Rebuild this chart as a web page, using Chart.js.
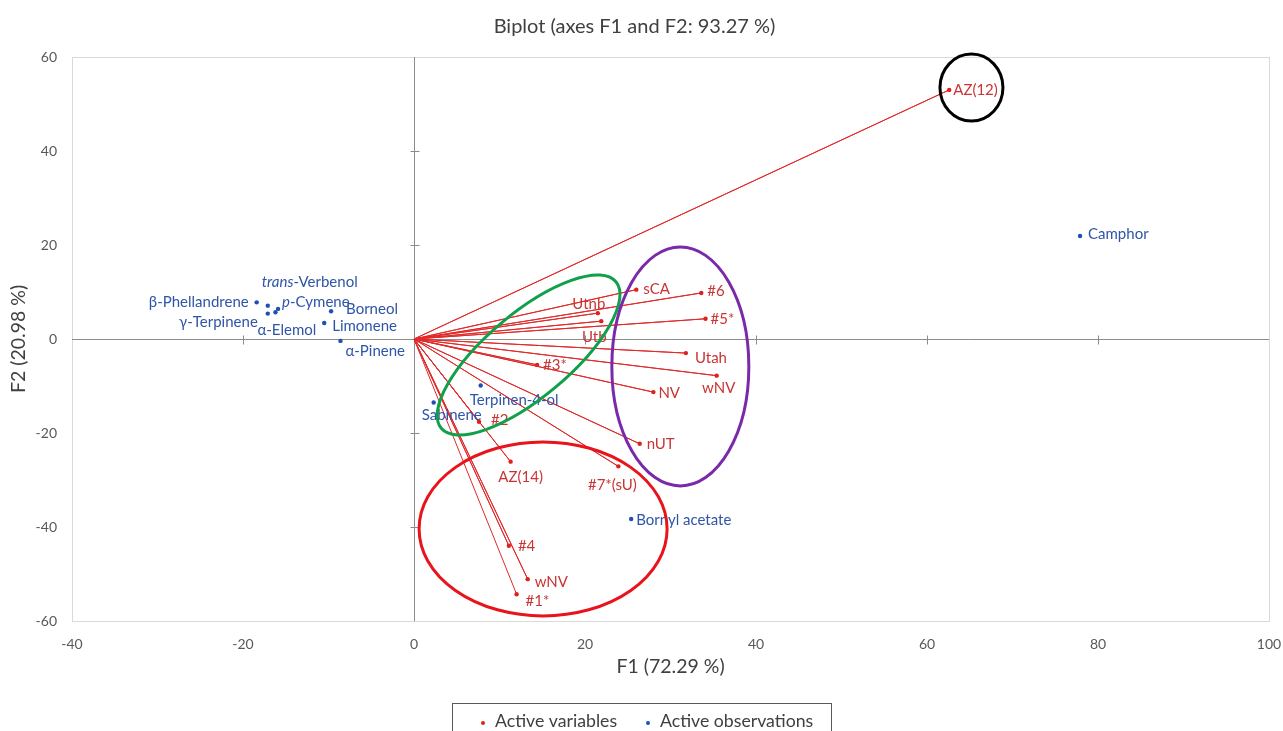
<!DOCTYPE html>
<html>
<head>
<meta charset="utf-8">
<script src="https://cdn.jsdelivr.net/npm/chart.js@4.4.0/dist/chart.umd.min.js"></script>
<style>
  html, body { margin: 0; padding: 0; background: #fff; }
</style>
</head>
<body>
<canvas id="biplot" width="1283" height="731"></canvas>
<script>
// Active variables (red vectors from the origin)
const varNames = ['AZ(12)', 'sCA', '#6', 'Utnb', 'Utb', '#5*', 'Utah', 'wNV', '#3*', 'NV', 'nUT', '#2', 'AZ(14)', '#7*(sU)', '#4', 'wNV', '#1*'];
const varF1 = [62.6, 26.0, 33.6, 21.5, 21.9, 34.1, 31.8, 35.4, 14.4, 28.0, 26.4, 7.6, 11.3, 23.9, 11.1, 13.3, 12.0];
const varF2 = [53.0, 10.5, 9.8, 5.5, 3.8, 4.3, -3.0, -7.8, -5.5, -11.3, -22.3, -17.6, -26.1, -27.1, -44.0, -51.1, -54.3];

// Active observations (blue points)
const obsNames = ['Camphor', 'Bornyl acetate', 'Terpinen-4-ol', 'Sabinene', 'α-Pinene', 'Limonene', 'Borneol', 'β-Phellandrene', 'trans-Verbenol', 'p-Cymene', 'γ-Terpinene', 'α-Elemol'];
const obsF1 = [77.9, 25.4, 7.8, 2.3, -8.6, -10.5, -9.7, -18.4, -17.1, -15.9, -17.1, -16.2];
const obsF2 = [21.9, -38.3, -9.9, -13.5, -0.4, 3.4, 5.9, 7.8, 7.1, 6.4, 5.4, 5.7];

// tick labels
const xTicks = [-40, -20, 0, 20, 40, 60, 80, 100];
const yTicks = [-60, -40, -20, 0, 20, 40, 60];

// label placement (px offset from the point, alignment) - same order as the names
const varLabelPos = [[4,0,'left'],[7,0,'left'],[6,-2,'left'],[-9,-9,'center'],[-7,16,'center'],[5,0,'left'],
  [9,5,'left'],[2,12,'center'],[6,0,'left'],[5,1,'left'],[7,0,'left'],[12,-2,'left'],[10,15,'center'],
  [-6,19,'center'],[9,0,'left'],[7,3,'left'],[9,7,'left']];
const obsLabelPos = [[8,-2,'left'],[5,1,'left'],[-11,15,'left'],[-12,13,'left'],[5,10,'left'],[8,3,'left'],
  [15,-2,'left'],[-8,0,'right'],[-6,-23,'left'],[4,-7,'left'],[-10,9,'right'],[-18,18,'left']];

// hand drawn groupings: centre in data units, radii in px, angle in degrees
const groups = [
  { cx: 65.2, cy: 53.5, rx: 31.5, ry: 33.5, rot: 0, color: '#000000' },
  { cx: 13.4, cy: -3.4, rx: 114, ry: 42, rot: -40, color: '#10a04a' },
  { cx: 31.15, cy: -5.85, rx: 68.5, ry: 119.5, rot: 0, color: '#7a2aa8' },
  { cx: 15.1, cy: -40.4, rx: 124, ry: 87, rot: 0, color: '#e8131b' }
];

const FONT = 'Lato, "Open Sans", sans-serif';
const RED_TXT = '#c93434';
const BLUE_TXT = '#2f55a8';

// vectors: origin -> variable, origin -> variable ...
const vectorPts = [];
varF1.forEach((x, i) => { vectorPts.push({ x: 0, y: 0 }); vectorPts.push({ x, y: varF2[i] }); });
const obsPts = obsF1.map((x, i) => ({ x, y: obsF2[i] }));

function drawLabel(ctx, text, x, y, align, color) {
    const m = text.match(/^(trans|p)(-.*)$/);
    const parts = m ? [[m[1], true], [m[2], false]] : [[text, false]];
    const fnt = it => (it ? 'italic ' : '') + '15px ' + FONT;
    let total = 0;
    parts.forEach(p => { ctx.font = fnt(p[1]); total += ctx.measureText(p[0]).width; });
    let cx = align === 'left' ? x : (align === 'right' ? x - total : x - total / 2);
    ctx.fillStyle = color;
    ctx.textAlign = 'left';
    ctx.textBaseline = 'middle';
    parts.forEach(p => {
        ctx.font = fnt(p[1]);
        ctx.fillText(p[0], cx, y);
        cx += ctx.measureText(p[0]).width;
    });
}

const frame = {
    id: 'frame',
    beforeDatasetsDraw(chart) {
        const { ctx, chartArea: a, scales: { x, y } } = chart;
        ctx.save();
        ctx.lineWidth = 1;
        ctx.strokeStyle = '#d9d9d9';
        ctx.strokeRect(a.left + 0.5, a.top + 0.5, a.right - a.left, a.bottom - a.top);
        const x0 = Math.round(x.getPixelForValue(0)) + 0.5;
        const y0 = Math.round(y.getPixelForValue(0)) + 0.5;
        ctx.strokeStyle = '#8c8c8c';
        ctx.beginPath();
        ctx.moveTo(x0, a.top); ctx.lineTo(x0, a.bottom);
        ctx.moveTo(a.left, y0); ctx.lineTo(a.right, y0);
        yTicks.forEach(v => {
            if (v === 0 || v === yTicks[0] || v === yTicks[yTicks.length - 1]) return;
            const py = Math.round(y.getPixelForValue(v)) + 0.5;
            ctx.moveTo(x0 - 4, py); ctx.lineTo(x0 + 5, py);
        });
        xTicks.forEach(v => {
            if (v === 0 || v === xTicks[0] || v === xTicks[xTicks.length - 1]) return;
            const px = Math.round(x.getPixelForValue(v)) + 0.5;
            ctx.moveTo(px, y0 - 4); ctx.lineTo(px, y0 + 5);
        });
        ctx.stroke();
        ctx.restore();
    }
};

const annot = {
    id: 'annot',
    afterDatasetsDraw(chart) {
        const { ctx, scales: { x, y } } = chart;
        ctx.save();
        const vMeta = chart.getDatasetMeta(0).data;
        varNames.forEach((n, i) => {
            const el = vMeta[2 * i + 1];
            const p = varLabelPos[i];
            drawLabel(ctx, n, el.x + p[0], el.y + p[1], p[2], RED_TXT);
        });
        const oMeta = chart.getDatasetMeta(1).data;
        obsNames.forEach((n, i) => {
            const el = oMeta[i];
            const p = obsLabelPos[i];
            drawLabel(ctx, n, el.x + p[0], el.y + p[1], p[2], BLUE_TXT);
        });
        // groupings on top
        ctx.lineWidth = 3;
        groups.forEach(g => {
            ctx.strokeStyle = g.color;
            ctx.beginPath();
            ctx.ellipse(x.getPixelForValue(g.cx), y.getPixelForValue(g.cy), g.rx, g.ry, g.rot * Math.PI / 180, 0, Math.PI * 2);
            ctx.stroke();
        });
        ctx.restore();
    },
    afterDraw(chart) {
        // boxed legend under the axis title
        const ctx = chart.ctx;
        ctx.save();
        ctx.strokeStyle = '#595959';
        ctx.lineWidth = 1;
        ctx.strokeRect(452.5, 703.5, 379, 40);
        ctx.fillStyle = '#e0201c';
        ctx.beginPath(); ctx.arc(483, 723, 2, 0, Math.PI * 2); ctx.fill();
        ctx.fillStyle = '#1f4fb4';
        ctx.beginPath(); ctx.arc(648, 723, 2, 0, Math.PI * 2); ctx.fill();
        ctx.fillStyle = '#404040';
        ctx.font = '17.7px ' + FONT;
        ctx.textBaseline = 'middle';
        ctx.textAlign = 'left';
        ctx.fillText('Active variables', 495, 721);
        ctx.fillText('Active observations', 660, 721);
        ctx.restore();
    }
};

new Chart(document.getElementById('biplot'), {
    type: 'scatter',
    data: {
        datasets: [
            {
                label: 'Active variables',
                data: vectorPts,
                showLine: true,
                borderColor: '#e02a2a',
                borderWidth: 1,
                tension: 0,
                pointRadius: c => (c.dataIndex % 2 ? 2.2 : 0),
                pointBackgroundColor: '#e0201c',
                pointBorderWidth: 0
            },
            {
                label: 'Active observations',
                data: obsPts,
                pointRadius: 2.2,
                pointBackgroundColor: '#1f4fb4',
                pointBorderWidth: 0
            }
        ]
    },
    options: {
        responsive: false,
        animation: false,
        layout: { padding: { left: 0, right: 14, top: 0, bottom: 48 } },
        plugins: {
            legend: { display: false },
            tooltip: { enabled: false },
            title: {
                display: true,
                text: 'Biplot (axes F1 and F2: 93.27 %)',
                color: '#404040',
                font: { family: FONT, size: 20, weight: 'normal' },
                padding: { top: 15, bottom: 18 }
            }
        },
        scales: {
            x: {
                type: 'linear',
                min: -40, max: 100,
                afterBuildTicks: s => { s.ticks = xTicks.map(v => ({ value: v })); },
                // fixed height; label overhang is covered by the layout padding
                afterFit: s => { s.height = 62; s.paddingLeft = 0; s.paddingRight = 0; },
                grid: { display: false, drawTicks: false },
                border: { display: false },
                ticks: { color: '#595959', font: { family: FONT, size: 14 }, padding: 15, maxRotation: 0 },
                title: { display: true, text: 'F1 (72.29 %)', color: '#404040', font: { family: FONT, size: 19.5 }, padding: { top: 0, bottom: 5 } }
            },
            y: {
                type: 'linear',
                min: -60, max: 60,
                afterBuildTicks: s => { s.ticks = yTicks.map(v => ({ value: v })); },
                afterFit: s => { s.width = 72; },
                grid: { display: false, drawTicks: false },
                border: { display: false },
                ticks: { color: '#595959', font: { family: FONT, size: 14 }, padding: 15 },
                title: { display: true, text: 'F2 (20.98 %)', color: '#404040', font: { family: FONT, size: 19.5 }, padding: { top: 7, bottom: 0 } }
            }
        }
    },
    plugins: [frame, annot]
});
</script>
</body>
</html>
